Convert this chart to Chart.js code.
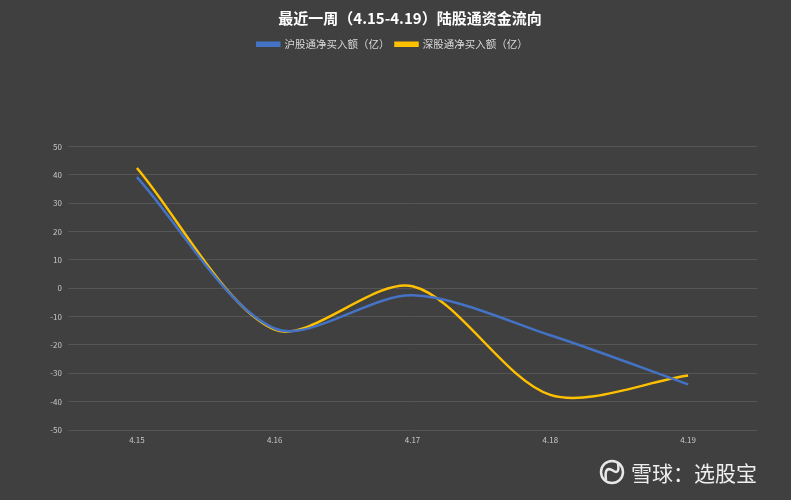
<!DOCTYPE html>
<html>
<head>
<meta charset="utf-8">
<script src="https://cdn.jsdelivr.net/npm/chart.js@4/dist/chart.umd.min.js"></script>
<style>
  html, body { margin: 0; padding: 0; background: #404040; }
  #wrap { width: 791px; height: 500px; position: relative; }
</style>
</head>
<body>
<div id="wrap"><canvas id="flowChart" width="791" height="500"></canvas></div>
<script>
// 最近一周陆股通资金流向 (亿)
const dias = ['4.15', '4.16', '4.17', '4.18', '4.19'];
const huGuTong = [39.2, -14.2, -2.5, -16.6, -33.9];
const shenGuTong = [42.4, -14.6, 0.7, -37.6, -30.8];
const yTicks = [50, 40, 30, 20, 10, 0, -10, -20, -30, -40, -50];

const titulo = '最近一周（4.15-4.19）陆股通资金流向';
const fonte = '"Noto Sans CJK SC", "Noto Sans", sans-serif';

// espaço extra abaixo da legenda
const legendaMargem = {
  id: 'legendaMargem',
  beforeInit(chart) {
    const fitOriginal = chart.legend.fit;
    chart.legend.fit = function () {
      fitOriginal.bind(chart.legend)();
      this.height += 87;
    };
  }
};

// título e marca d'água
const extras = {
  id: 'extras',
  afterDraw(chart) {
    const ctx = chart.ctx;
    ctx.save();
    ctx.fillStyle = '#ffffff';
    ctx.font = 'bold 15px ' + fonte;
    ctx.textAlign = 'center';
    ctx.textBaseline = 'middle';
    ctx.fillText(titulo, 410, 18);

    // logo
    ctx.strokeStyle = '#e8e8e8';
    ctx.lineWidth = 2.5;
    ctx.beginPath();
    ctx.arc(612, 472, 11, 0, Math.PI * 2);
    ctx.stroke();
    ctx.beginPath();
    ctx.moveTo(606, 480);
    ctx.quadraticCurveTo(604, 466, 612, 470);
    ctx.quadraticCurveTo(620, 476, 618, 463);
    ctx.stroke();

    ctx.fillStyle = '#eeeeee';
    ctx.font = '21px ' + fonte;
    ctx.textAlign = 'left';
    ctx.fillText('雪球：选股宝', 631, 473);
    ctx.restore();
  }
};

new Chart(document.getElementById('flowChart'), {
  type: 'line',
  data: {
    labels: dias,
    datasets: [
      {
        label: '沪股通净买入额（亿）',
        data: huGuTong,
        borderColor: '#4472c4',
        backgroundColor: '#4472c4',
        borderWidth: 2.5,
        tension: 0.3,
        pointRadius: 0
      },
      {
        label: '深股通净买入额（亿）',
        data: shenGuTong,
        borderColor: '#ffc000',
        backgroundColor: '#ffc000',
        borderWidth: 2.5,
        tension: 0.3,
        pointRadius: 0
      }
    ]
  },
  options: {
    responsive: false,
    animation: false,
    layout: { padding: { top: 33, left: 28, right: 34, bottom: 50 } },
    plugins: {
      title: { display: false },
      tooltip: { enabled: false },
      legend: {
        position: 'top',
        labels: {
          color: '#d9d9d9',
          boxWidth: 22,
          boxHeight: 3,
          padding: 6,
          font: { family: fonte, size: 10.5 }
        }
      }
    },
    scales: {
      x: {
        offset: true,
        grid: { display: false, drawTicks: false },
        border: { display: false },
        ticks: { color: '#c8c8c8', padding: 5, font: { family: fonte, size: 8 } },
        afterFit(scale) { scale.height = 20; }
      },
      y: {
        min: -50,
        max: 50,
        afterBuildTicks(scale) { scale.ticks = yTicks.map(v => ({ value: v })); },
        grid: { color: '#555555', drawTicks: false },
        border: { display: false },
        ticks: { color: '#c8c8c8', padding: 6, font: { family: fonte, size: 8 } },
        afterFit(scale) { scale.width = 40; }
      }
    }
  },
  plugins: [legendaMargem, extras]
});
</script>
</body>
</html>
